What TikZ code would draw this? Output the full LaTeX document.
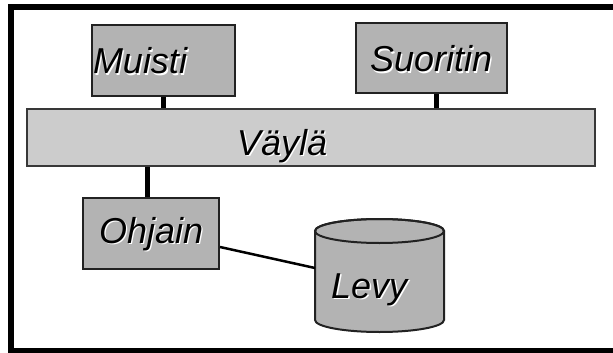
\documentclass[tikz,border=0pt]{standalone}
\usepackage{fontspec}
\setmainfont{Liberation Sans}
\newcommand\shd[1]{\makebox[0pt][l]{\kern1.4pt\raisebox{-1.4pt}{\color{white}#1}}#1}
\definecolor{boxgray}{HTML}{B3B3B3}
\definecolor{busgray}{HTML}{CCCCCC}
\definecolor{edgegray}{HTML}{222222}
\tikzset{
  txt/.style={font=\fontsize{36}{40}\selectfont\itshape, inner sep=0pt, align=left},
  unit/.style={txt, rectangle, draw=edgegray, line width=2pt, fill=boxgray},
  busbox/.style={txt, rectangle, draw=edgegray!90, line width=1.5pt, fill=busgray},
  link/.style={line width=5pt, black},
  cable/.style={line width=2.5pt, black},
}
\begin{document}
\begin{tikzpicture}[x=1pt,y=-1pt]
\useasboundingbox (0,0) rectangle (613,353);
\clip (0,0) rectangle (613,353);
\draw[line width=6pt] (11,7) rectangle (625,351);
% bus
\node[busbox, text width=568pt, text height=46pt, text depth=11pt] (bus) at (311,137.5) {\hspace*{210pt}\shd{Väylä}};
% units
\node[unit, text width=143pt, text height=49pt, text depth=22pt] (muisti) at (163.5,60.5) {\hspace*{1pt}\shd{Muisti}};
\node[unit, text width=151pt, text height=49pt, text depth=21pt] (suoritin) at (431.5,58) {\hspace*{14pt}\shd{Suoritin}};
\node[unit, text width=136pt, text height=45pt, text depth=26pt] (ohjain) at (151,233.5) {\hspace*{16pt}\shd{Ohjain}};
% disk
\draw[line width=2pt, draw=edgegray, fill=boxgray] (315,231) -- (315,320) arc[start angle=180, end angle=0, x radius=64.5, y radius=12] -- (444,231) arc[start angle=0, end angle=-180, x radius=64.5, y radius=12] -- cycle;
\draw[line width=2pt, draw=edgegray] (379.5,231) ellipse[x radius=64.5, y radius=12];
\node[txt, anchor=base west] (levy) at (331,298) {\shd{Levy}};
\coordinate (levyin) at (315,268);
% connectors
\draw[link] (muisti.south) -- (muisti.south |- bus.north);
\draw[link] ([xshift=4.5pt]suoritin.south) -- ([xshift=4.5pt]suoritin.south |- bus.north);
\draw[link] ([xshift=-4pt]ohjain.north) -- ([xshift=-4pt]ohjain.north |- bus.south);
\draw[cable] ([yshift=-13.5pt]ohjain.east) -- (levyin);
\end{tikzpicture}
\end{document}
